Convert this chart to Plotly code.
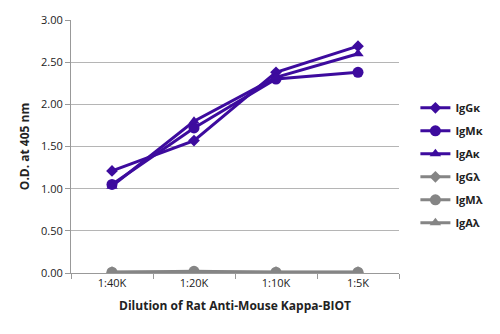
import plotly.graph_objects as go

categories = ["1:40K", "1:20K", "1:10K", "1:5K"]
series_names = ["IgGκ", "IgMκ", "IgAκ", "IgGλ", "IgMλ", "IgAλ"]
igg_k = [1.21, 1.57, 2.38, 2.69]
igm_k = [1.05, 1.72, 2.30, 2.38]
iga_k = [1.03, 1.80, 2.32, 2.60]
igg_l = [0.01, 0.01, 0.01, 0.01]
igm_l = [0.01, 0.02, 0.01, 0.01]
iga_l = [0.01, 0.01, 0.01, 0.01]
y_ticks = [0, 0.5, 1.0, 1.5, 2.0, 2.5, 3.0]

purple = "#3d0b9e"
gray = "#858585"
values = [igg_k, igm_k, iga_k, igg_l, igm_l, iga_l]
colors = [purple, purple, purple, gray, gray, gray]
symbols = ["diamond", "circle", "triangle-up", "diamond", "circle", "triangle-up"]
sizes = [9, 11, 10, 9, 11, 10]

fig = go.Figure()
for i, (name, vals) in enumerate(zip(series_names, values)):
    fig.add_trace(go.Scatter(
        x=categories, y=vals, name=name, mode="lines+markers",
        line=dict(color=colors[i], width=3),
        marker=dict(symbol=symbols[i], size=sizes[i], color=colors[i]),
        legendgroup=name,
    ))

font = "Open Sans, Liberation Sans, sans-serif"
fig.update_layout(
    width=500, height=334,
    margin=dict(l=71, r=93, t=15, b=61),
    paper_bgcolor="white", plot_bgcolor="white",
    font=dict(family=font, size=11, color="#222"),
    showlegend=True,
    legend=dict(x=1.05, xanchor="left", y=0.71, yanchor="top",
                font=dict(size=11, color="#222", family=font, weight="bold"),
                tracegroupgap=4, itemwidth=30, bgcolor="rgba(0,0,0,0)"),
    xaxis=dict(type="category", range=[-0.5, 3.5], showgrid=False,
               showline=True, linecolor="#999", linewidth=1,
               ticks="outside", tickson="boundaries", ticklen=5, tickcolor="#999",
               title=dict(text="<b>Dilution of Rat Anti-Mouse Kappa-BIOT</b>", standoff=12,
                          font=dict(size=12))),
    yaxis=dict(range=[0, 3.0], tickvals=y_ticks, tickformat=".2f",
               showgrid=True, gridcolor="#b5b5b5", gridwidth=1,
               showline=True, linecolor="#999", linewidth=1,
               ticks="outside", ticklen=5, tickcolor="#999", zeroline=False,
               title=dict(text="<b>O.D. at 405 nm</b>", standoff=8, font=dict(size=12))),
)
fig.write_html("out.html")
